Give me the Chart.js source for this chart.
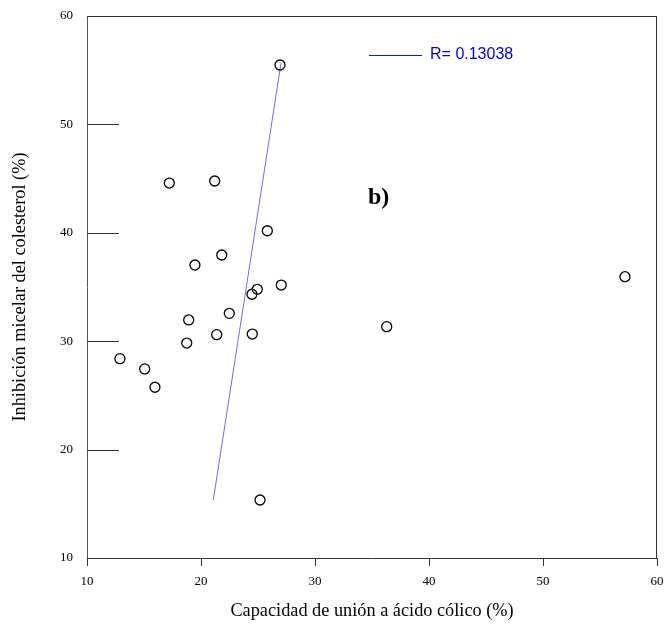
<!DOCTYPE html>
<html>
<head>
<meta charset="utf-8">
<script src="https://cdn.jsdelivr.net/npm/chart.js@4.4.1/dist/chart.umd.min.js"></script>
<style>
  html, body { margin: 0; padding: 0; background: #fff; }
  #wrap { width: 664px; height: 628px; }
</style>
</head>
<body>
<div id="wrap"><canvas id="c" width="664" height="628"></canvas></div>
<script>
// scatter points
var xValues = [17.22, 21.20, 25.82, 21.82, 19.47, 27.04, 24.94, 24.47, 22.48, 18.92,
               21.38, 24.50, 18.75, 12.89, 15.06, 15.96, 25.18, 36.29, 57.19, 26.93];
var yValues = [44.59, 44.78, 40.19, 37.95, 37.03, 35.18, 34.79, 34.33, 32.57, 31.96,
               30.60, 30.66, 29.83, 28.39, 27.44, 25.75, 15.35, 31.34, 35.95, 55.48];

// fitted line, two end points
var fitX = [21.08, 27.02];
var fitY = [15.35, 55.66];
var fitLabel = "R= 0.13038";

var xTicks = [10, 20, 30, 40, 50, 60];
var yTicks = [10, 20, 30, 40, 50, 60];

var xTitle = "Capacidad de unión a ácido cólico (%)";
var yTitle = "Inhibición micelar del colesterol (%)";
var panelTag = "b)";

var serif = "'Liberation Serif', 'Times New Roman', serif";

function toPoints(xs, ys) {
    var pts = [];
    for (var i = 0; i < xs.length; i++) pts.push({ x: xs[i], y: ys[i] });
    return pts;
}

//frame, inward y ticks, legend and the panel letter
var framePlugin = {
    id: 'frame',
    afterDraw: function (chart) {
        var ctx = chart.ctx;
        var a = chart.chartArea;
        var xs = chart.scales.x;
        var ys = chart.scales.y;
        ctx.save();
        ctx.lineWidth = 1;
        ctx.strokeStyle = '#333';
        ctx.beginPath();
        ctx.moveTo(a.left, a.top + 0.5);
        ctx.lineTo(a.right, a.top + 0.5);
        ctx.moveTo(a.right - 0.5, a.top);
        ctx.lineTo(a.right - 0.5, a.bottom);
        for (var i = 0; i < yTicks.length; i++) {
            var py = Math.round(ys.getPixelForValue(yTicks[i])) + 0.5;
            ctx.moveTo(a.left, py);
            ctx.lineTo(a.left + 32, py);
        }
        ctx.stroke();

        // legend
        var lx = xs.getPixelForValue(34.74);
        var ly = ys.getPixelForValue(56.4);
        ctx.strokeStyle = '#1010ff';
        ctx.beginPath();
        ctx.moveTo(lx, Math.round(ly) + 0.5);
        ctx.lineTo(lx + 53, Math.round(ly) + 0.5);
        ctx.stroke();
        ctx.fillStyle = '#0000ee';
        ctx.font = "16px 'Liberation Sans', Arial, sans-serif";
        ctx.textBaseline = 'middle';
        ctx.textAlign = 'left';
        ctx.fillText(fitLabel, lx + 61, ly);

        // panel tag
        ctx.fillStyle = '#000';
        ctx.font = "bold 24px " + serif;
        ctx.fillText(panelTag, xs.getPixelForValue(34.65), ys.getPixelForValue(43.2));
        ctx.restore();
    }
};

new Chart(document.getElementById('c'), {
    type: 'scatter',
    data: {
        datasets: [{
            label: 'datos',
            data: toPoints(xValues, yValues),
            pointRadius: 5,
            pointHoverRadius: 5,
            pointBorderWidth: 1.3,
            pointBorderColor: '#000',
            pointBackgroundColor: 'rgba(255,255,255,0)',
            showLine: false
        }, {
            label: fitLabel,
            data: toPoints(fitX, fitY),
            showLine: true,
            borderColor: '#6a6aff',
            borderWidth: 1,
            pointRadius: 0,
            fill: false
        }]
    },
    options: {
        responsive: false,
        animation: false,
        events: [],
        layout: { padding: { top: 16, right: 7, bottom: 0, left: 0 } },
        plugins: {
            legend: { display: false },
            tooltip: { enabled: false }
        },
        scales: {
            x: {
                type: 'linear',
                min: 10, max: 60,
                afterBuildTicks: function (s) { s.ticks = xTicks.map(function (v) { return { value: v }; }); },
                afterFit: function (s) { s.height = 70; s.paddingLeft = 0; s.paddingRight = 0; },
                grid: { drawOnChartArea: false, drawTicks: true, tickLength: 8, color: '#333', lineWidth: 1 },
                border: { display: true, color: '#333', width: 1 },
                ticks: { color: '#000', padding: 8, font: { family: serif, size: 13 }, maxRotation: 0 },
                title: { display: true, text: xTitle, color: '#000', font: { family: serif, size: 18.3 }, padding: { top: 0, bottom: 6 } }
            },
            y: {
                type: 'linear',
                min: 10, max: 60,
                afterBuildTicks: function (s) { s.ticks = yTicks.map(function (v) { return { value: v }; }); },
                afterFit: function (s) { s.width = 87; s.paddingTop = 0; s.paddingBottom = 0; },
                grid: { drawOnChartArea: false, drawTicks: false },
                border: { display: true, color: '#555', width: 1 },
                ticks: { color: '#000', padding: 14, font: { family: serif, size: 13 } },
                title: { display: true, text: yTitle, color: '#000', font: { family: serif, size: 18.3 }, padding: { top: 9, bottom: 0 } }
            }
        }
    },
    plugins: [framePlugin]
});
</script>
</body>
</html>
